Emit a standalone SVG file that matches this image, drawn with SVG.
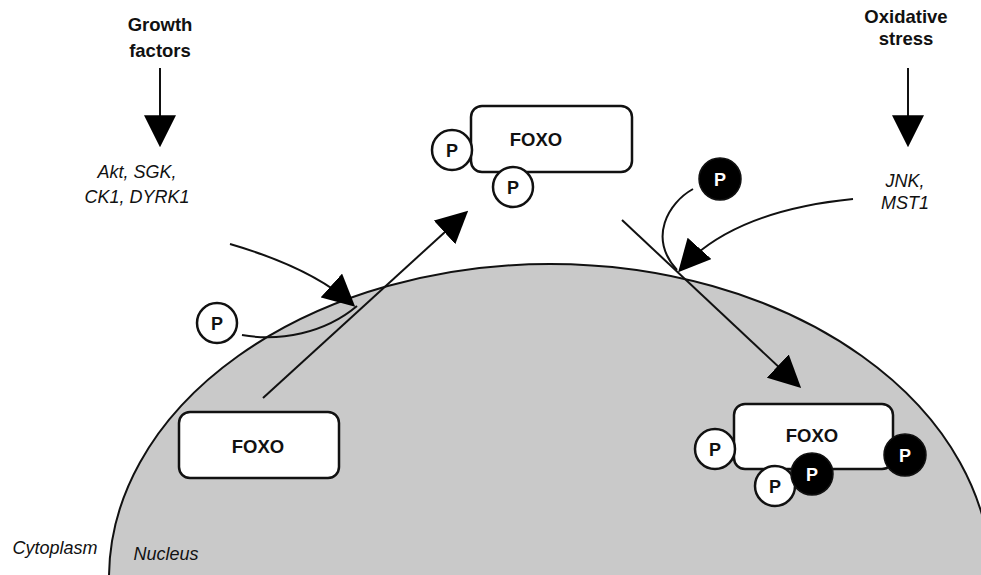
<svg xmlns="http://www.w3.org/2000/svg" width="981" height="575" viewBox="0 0 981 575">
  <style>
    .bg { fill: #ffffff; }
    .nucleus { fill: #c9c9c9; stroke: #111; stroke-width: 2; }
    .box { fill: #ffffff; stroke: #111; stroke-width: 2.5; }
    .conn { fill: none; stroke: #111; stroke-width: 2; }
    .pw { fill: #ffffff; stroke: #111; stroke-width: 2.5; }
    .pb { fill: #000000; stroke: #111; stroke-width: 1.5; }
    .lbl-b { font-family: "Liberation Sans", Arial, sans-serif; font-weight: bold; font-size: 18.5px; fill: #111; text-anchor: middle; }
    .lbl-i { font-family: "Liberation Sans", Arial, sans-serif; font-style: italic; font-size: 18px; fill: #111; text-anchor: middle; }
    .p-w { font-family: "Liberation Sans", Arial, sans-serif; font-weight: bold; font-size: 18px; fill: #111; text-anchor: middle; }
    .p-b { font-family: "Liberation Sans", Arial, sans-serif; font-weight: bold; font-size: 18px; fill: #ffffff; text-anchor: middle; }
  </style>
  <defs>
    <marker id="head" markerUnits="userSpaceOnUse" markerWidth="32" markerHeight="32" refX="26" refY="15" orient="auto" viewBox="0 0 30 30">
      <path d="M0,0 L30,15 L0,30 z" fill="#000"/>
    </marker>
  </defs>

  <rect class="bg" x="0" y="0" width="981" height="575"/>

  <!-- nucleus envelope -->
  <g id="nucleus">
    <ellipse class="nucleus" cx="550" cy="578" rx="441" ry="314"/>
  </g>

  <!-- compartment labels -->
  <g id="compartments">
    <text class="lbl-i" x="55" y="554">Cytoplasm</text>
    <text class="lbl-i" x="166" y="560">Nucleus</text>
  </g>

  <!-- stimuli and kinases -->
  <g id="growth-factors">
    <text class="lbl-b" x="160" y="31">Growth</text>
    <text class="lbl-b" x="160" y="57">factors</text>
  </g>
  <g id="akt-kinases">
    <text class="lbl-i" x="137" y="178">Akt, SGK,</text>
    <text class="lbl-i" x="137" y="203">CK1, DYRK1</text>
  </g>
  <g id="oxidative-stress">
    <text class="lbl-b" x="906" y="23">Oxidative</text>
    <text class="lbl-b" x="906" y="45">stress</text>
  </g>
  <g id="jnk-kinases">
    <text class="lbl-i" x="905" y="187">JNK,</text>
    <text class="lbl-i" x="905" y="209">MST1</text>
  </g>

  <!-- connectors -->
  <g id="connectors">
    <path class="conn" d="M160,68 V143" marker-end="url(#head)"/>
    <path class="conn" d="M908,68 V143" marker-end="url(#head)"/>
    <path class="conn" d="M230,244 Q312,268 352,304" marker-end="url(#head)"/>
    <path class="conn" d="M242,335 C280,342 325,333 357,306"/>
    <path class="conn" d="M263,398 L465,213.7" marker-end="url(#head)"/>
    <path class="conn" d="M693,189 C668,203 648,238 677,270"/>
    <path class="conn" d="M853,199 Q733,211 681,269" marker-end="url(#head)"/>
    <path class="conn" d="M622,220 L798,385" marker-end="url(#head)"/>
  </g>

  <!-- free phosphate groups -->
  <g id="phosphate-left">
    <circle class="pw" cx="217" cy="323" r="20"/>
    <text class="p-w" x="217" y="329.5">P</text>
  </g>
  <g id="phosphate-right">
    <circle class="pb" cx="720" cy="179" r="21"/>
    <text class="p-b" x="720" y="185.5">P</text>
  </g>

  <!-- FOXO in the nucleus -->
  <g id="foxo-nuclear">
    <rect class="box" x="179" y="412" width="160" height="66" rx="11"/>
    <text class="lbl-b" x="258" y="453">FOXO</text>
  </g>

  <!-- phosphorylated FOXO exported to the cytoplasm -->
  <g id="foxo-cytoplasmic">
    <rect class="box" x="471" y="106" width="161" height="66" rx="11"/>
    <text class="lbl-b" x="536" y="146">FOXO</text>
    <circle class="pw" cx="452" cy="150" r="20"/>
    <text class="p-w" x="452" y="156.5">P</text>
    <circle class="pw" cx="513" cy="187" r="20"/>
    <text class="p-w" x="513" y="193.5">P</text>
  </g>

  <!-- FOXO re-imported after stress phosphorylation -->
  <g id="foxo-stress">
    <rect class="box" x="734" y="404" width="159" height="65" rx="11"/>
    <text class="lbl-b" x="812" y="442">FOXO</text>
    <circle class="pw" cx="715" cy="449" r="20"/>
    <text class="p-w" x="715" y="455.5">P</text>
    <circle class="pw" cx="775" cy="486" r="20"/>
    <text class="p-w" x="775" y="492.5">P</text>
    <circle class="pb" cx="812" cy="474" r="21"/>
    <text class="p-b" x="812" y="480.5">P</text>
    <circle class="pb" cx="905" cy="455" r="21"/>
    <text class="p-b" x="905" y="461.5">P</text>
  </g>
</svg>
